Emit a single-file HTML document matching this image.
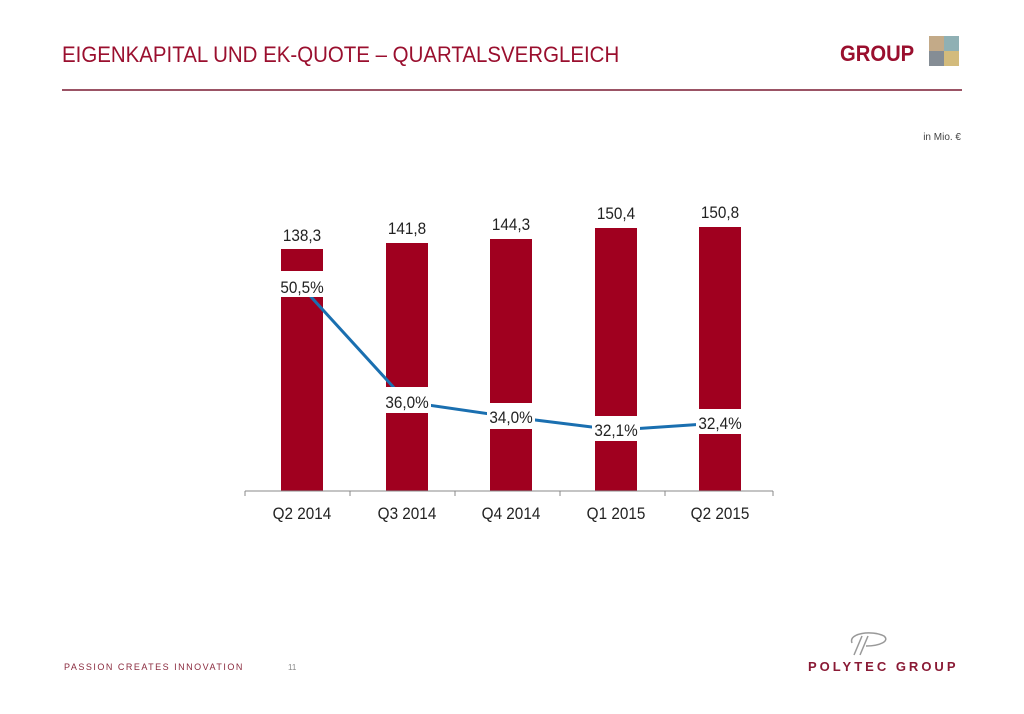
<!DOCTYPE html>
<html><head><meta charset="utf-8"><style>
body{margin:0;width:1024px;height:709px;background:#fff;overflow:hidden;font-family:"Liberation Sans",sans-serif}
</style></head><body>
<svg width="1024" height="709" xmlns="http://www.w3.org/2000/svg" font-family="Liberation Sans, sans-serif">
<text x="62" y="62" font-size="22" fill="#9a0f2e" transform="translate(62 0) scale(0.93 1) translate(-62 0)">EIGENKAPITAL UND EK-QUOTE – QUARTALSVERGLEICH</text>
<text x="840" y="61" font-size="22" font-weight="bold" fill="#9a0f2e" transform="translate(840 0) scale(0.92 1) translate(-840 0)">GROUP</text>
<rect x="929" y="36" width="15" height="15" fill="#c3aa88"/><rect x="944" y="36" width="15" height="15" fill="#8fb0b4"/>
<rect x="929" y="51" width="15" height="15" fill="#858d95"/><rect x="944" y="51" width="15" height="15" fill="#d3bb7c"/>
<line x1="62" y1="90" x2="962" y2="90" stroke="#7a1a32" stroke-width="1.5"/>
<text x="961" y="140" font-size="10" fill="#444" text-anchor="end">in Mio. €</text>
<g fill="#a0001f">
<rect x="281" y="249" width="42" height="242"/><rect x="386" y="243" width="42" height="248"/>
<rect x="490" y="239" width="42" height="252"/><rect x="595" y="228" width="42" height="263"/>
<rect x="699" y="227" width="42" height="264"/>
</g>
<polyline points="302,287 407,402 511,417 616,430 720,423" fill="none" stroke="#1a6fb0" stroke-width="3"/>
<g fill="#fff">
<rect x="279" y="271" width="46" height="26"/><rect x="383" y="387" width="48" height="26"/>
<rect x="487" y="403" width="48" height="26"/><rect x="592" y="416" width="48" height="25"/>
<rect x="696" y="409" width="48" height="25"/>
</g>
<g font-size="17" fill="#222" text-anchor="middle">
<text x="302" y="293" transform="translate(302 0) scale(0.9 1) translate(-302 0)">50,5%</text>
<text x="407" y="408" transform="translate(407 0) scale(0.9 1) translate(-407 0)">36,0%</text>
<text x="511" y="423" transform="translate(511 0) scale(0.9 1) translate(-511 0)">34,0%</text>
<text x="616" y="436" transform="translate(616 0) scale(0.9 1) translate(-616 0)">32,1%</text>
<text x="720" y="429" transform="translate(720 0) scale(0.9 1) translate(-720 0)">32,4%</text>
<text x="302" y="241" transform="translate(302 0) scale(0.9 1) translate(-302 0)">138,3</text>
<text x="407" y="234" transform="translate(407 0) scale(0.9 1) translate(-407 0)">141,8</text>
<text x="511" y="230" transform="translate(511 0) scale(0.9 1) translate(-511 0)">144,3</text>
<text x="616" y="219" transform="translate(616 0) scale(0.9 1) translate(-616 0)">150,4</text>
<text x="720" y="218" transform="translate(720 0) scale(0.9 1) translate(-720 0)">150,8</text>
<text x="302" y="519" transform="translate(302 0) scale(0.9 1) translate(-302 0)">Q2 2014</text>
<text x="407" y="519" transform="translate(407 0) scale(0.9 1) translate(-407 0)">Q3 2014</text>
<text x="511" y="519" transform="translate(511 0) scale(0.9 1) translate(-511 0)">Q4 2014</text>
<text x="616" y="519" transform="translate(616 0) scale(0.9 1) translate(-616 0)">Q1 2015</text>
<text x="720" y="519" transform="translate(720 0) scale(0.9 1) translate(-720 0)">Q2 2015</text>
</g>
<g stroke="#888" stroke-width="1">
<line x1="245" y1="491" x2="773" y2="491"/>
<line x1="245" y1="491" x2="245" y2="496"/><line x1="350" y1="491" x2="350" y2="496"/>
<line x1="455" y1="491" x2="455" y2="496"/><line x1="560" y1="491" x2="560" y2="496"/>
<line x1="665" y1="491" x2="665" y2="496"/><line x1="773" y1="491" x2="773" y2="496"/>
</g>
<text x="64" y="670" font-size="9" fill="#8a2a3e" letter-spacing="1.5">PASSION CREATES INNOVATION</text>
<text x="288" y="670" font-size="8" fill="#888">11</text>
<path d="M852 643 C 848 633 872 630 884 636 C 890 641 880 646 866 646" fill="none" stroke="#999" stroke-width="1.5"/>
<line x1="862" y1="636" x2="854" y2="655" stroke="#999" stroke-width="1.5"/>
<line x1="868" y1="636" x2="860" y2="655" stroke="#999" stroke-width="1.5"/>
<text x="808" y="671" font-size="13" font-weight="bold" fill="#8a1a35" letter-spacing="3.0">POLYTEC GROUP</text>
</svg>
</body></html>
